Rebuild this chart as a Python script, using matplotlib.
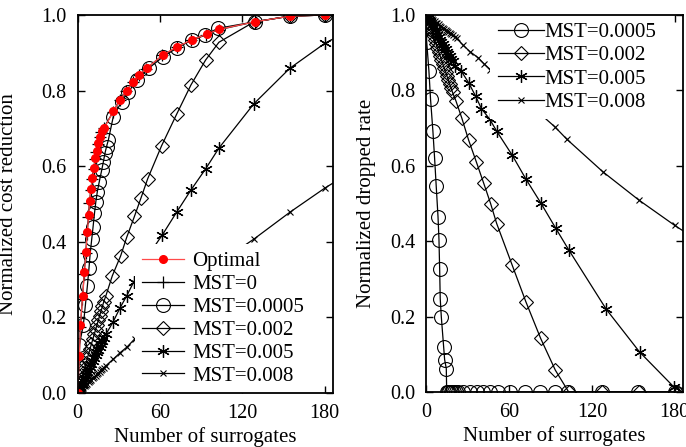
import matplotlib
matplotlib.use("Agg")
import matplotlib.pyplot as plt

plt.rcParams['font.family'] = ['Liberation Serif', 'DejaVu Serif']

# ---- left panel: normalized cost reduction ----
opt_x = [0, 1.2, 2, 3.6, 4.9, 6, 7, 8, 8.6, 9.7, 10.7, 11.9, 12.9, 13.8, 15, 16.3, 17.5, 19.2,
         26, 30.8, 35.7, 40.5, 44.9, 50.2, 61.9, 72.5, 83, 93.9, 102.9, 129, 154.5, 180]
opt_y = [0, 0.097, 0.18, 0.257, 0.319, 0.374, 0.427, 0.47, 0.507, 0.539, 0.568, 0.595, 0.621, 0.639,
         0.661, 0.678, 0.692, 0.70, 0.745, 0.775, 0.80, 0.824, 0.841, 0.859, 0.894, 0.916, 0.934,
         0.949, 0.962, 0.982, 0.997, 1.0]

m0_x = [0, 1, 2, 3.4, 4.7, 5.8, 6.8, 7.8, 8.5, 9.5, 10.5, 11.6, 12.6, 13.6, 14.7, 16, 17.2, 18.8,
        25.8, 30.6, 35.5, 40.3, 44.7, 50, 61.7, 72.3, 82.8, 93.7, 102.7, 129, 154.5, 180]
m0_y = [0, 0.09, 0.175, 0.25, 0.315, 0.37, 0.42, 0.465, 0.503, 0.536, 0.566, 0.593, 0.618, 0.637,
        0.659, 0.676, 0.69, 0.70, 0.744, 0.774, 0.80, 0.823, 0.84, 0.858, 0.893, 0.915, 0.933,
        0.948, 0.961, 0.982, 0.997, 1.0]

m05_x = [0, 0.5, 1.2, 4.1, 5.6, 7, 8.2, 9, 10.2, 11.2, 12.2, 13.2, 14.3, 15.7, 17.5, 18.7, 19.9,
         21, 22.3, 25.9, 32, 36.9, 43.4, 51.7, 62.3, 72, 83, 92.7, 102.4, 129, 154.5, 180]
m05_y = [0, 0.07, 0.128, 0.18, 0.233, 0.282, 0.33, 0.366, 0.407, 0.44, 0.475, 0.506, 0.533, 0.559,
         0.59, 0.612, 0.635, 0.652, 0.669, 0.731, 0.771, 0.797, 0.828, 0.859, 0.89, 0.912, 0.934,
         0.947, 0.965, 0.982, 0.997, 1.0]

m2_x = [0, 1, 2, 3, 4, 5, 6, 7, 8, 9, 10, 11, 12, 13, 14, 15, 16, 17, 18, 19, 20.4, 25.2, 31.3,
        35.7, 41.3, 46.2, 51, 61.1, 72, 82.5, 93.2, 102.9, 128.6, 154.5, 180]
m2_y = [0, 0.014, 0.027, 0.04, 0.053, 0.066, 0.079, 0.092, 0.104, 0.117, 0.13, 0.142, 0.155, 0.167,
        0.18, 0.192, 0.205, 0.217, 0.229, 0.242, 0.256, 0.31, 0.363, 0.412, 0.467, 0.517, 0.567,
        0.654, 0.737, 0.815, 0.881, 0.928, 0.982, 0.997, 1.0]

m5_x = [0, 1, 2, 3, 4, 5, 6, 7, 8, 9, 10, 11, 12, 13, 14, 15, 16, 17, 18, 19, 20.5, 25.9, 30.8,
        35.7, 40.7, 46, 51, 61.6, 72, 82.5, 93.2, 102.9, 128.3, 154.5, 180, 206]
m5_y = [0, 0.008, 0.016, 0.024, 0.031, 0.039, 0.047, 0.055, 0.062, 0.07, 0.078, 0.085, 0.093, 0.1,
        0.108, 0.115, 0.123, 0.13, 0.138, 0.145, 0.155, 0.189, 0.225, 0.257, 0.293, 0.33, 0.362,
        0.418, 0.478, 0.537, 0.593, 0.648, 0.765, 0.859, 0.925, 0.975]

m8_x = [0, 1, 2, 3, 4, 5, 6, 7, 8, 9, 10, 11, 12, 13, 14, 15, 16, 17, 18, 19, 20.5, 26, 31, 36,
        41.5, 46, 51, 61.5, 72, 82.5, 93, 103, 128.3, 154.5, 180, 206]
m8_y = [0, 0.004, 0.007, 0.011, 0.014, 0.018, 0.021, 0.025, 0.028, 0.032, 0.035, 0.039, 0.042,
        0.046, 0.049, 0.053, 0.056, 0.06, 0.063, 0.067, 0.072, 0.09, 0.107, 0.122, 0.143, 0.158,
        0.174, 0.21, 0.245, 0.28, 0.313, 0.345, 0.407, 0.478, 0.542, 0.6]

# ---- right panel: normalized dropped rate ----
d05_x = [0, 0.3, 1.9, 3.1, 4.8, 6, 7.2, 8.5, 9.2, 9.7, 10.1, 10.9, 12.6, 13.3, 14.5, 14.8, 15.8,
         16.8, 17.8, 18.8, 19.8, 21.5, 23.2, 26.8, 31.7, 36.5, 41.3, 46.2, 52.2, 60.6, 71.5, 82.4,
         93.3, 103, 127, 153.6, 180]
d05_y = [1.0, 0.929, 0.852, 0.776, 0.692, 0.622, 0.546, 0.465, 0.404, 0.325, 0.248, 0.199, 0.119,
         0.086, 0.062, 0, 0, 0, 0, 0, 0, 0, 0, 0, 0, 0, 0, 0, 0, 0, 0, 0, 0, 0, 0, 0, 0]

d2_x = [0, 1, 2, 3, 4, 5, 6, 7, 8, 9, 10, 11, 12, 13, 14, 15, 16, 17, 18, 19, 21.5, 25.8, 30.7,
        36.2, 41.5, 46.6, 51, 62.3, 72.2, 82.9, 93.5, 103.2, 127.3, 153.9, 180]
d2_y = [1.0, 0.989, 0.978, 0.967, 0.957, 0.946, 0.935, 0.924, 0.913, 0.902, 0.892, 0.881, 0.87,
        0.859, 0.849, 0.838, 0.827, 0.816, 0.806, 0.795, 0.772, 0.726, 0.668, 0.611, 0.555, 0.5,
        0.447, 0.336, 0.239, 0.142, 0.058, 0, 0, 0, 0]

d5_x = [0, 1, 2, 3, 4, 5, 6, 7, 8, 9, 10, 11, 12, 13, 14, 15, 16, 17, 18, 19, 21, 25.4, 30.9,
        35.7, 39.9, 45.9, 51, 62.3, 72, 82.9, 93.7, 103.4, 130.5, 154.6, 179.5, 206]
d5_y = [1.0, 0.994, 0.987, 0.981, 0.974, 0.968, 0.961, 0.955, 0.948, 0.942, 0.935, 0.929, 0.922,
        0.916, 0.909, 0.903, 0.896, 0.89, 0.883, 0.877, 0.866, 0.851, 0.819, 0.785, 0.752, 0.724,
        0.692, 0.628, 0.566, 0.502, 0.435, 0.376, 0.219, 0.106, 0.013, 0.0]

d8_x = [0, 1, 2, 3, 4, 5, 6, 7, 8, 9, 10, 11, 12, 13, 14, 15, 16, 17, 18, 19, 20.5, 22, 26.7,
        31.6, 37.5, 42, 46.5, 51.5, 62, 72, 82.1, 93, 102, 128, 154.1, 180, 206]
d8_y = [1.0, 0.997, 0.994, 0.992, 0.989, 0.986, 0.983, 0.98, 0.978, 0.975, 0.972, 0.969, 0.966,
        0.964, 0.961, 0.958, 0.955, 0.952, 0.95, 0.947, 0.943, 0.938, 0.92, 0.903, 0.887, 0.87,
        0.855, 0.84, 0.805, 0.772, 0.739, 0.704, 0.67, 0.584, 0.509, 0.442, 0.38]

xticks = [0, 60, 120, 180]
yticks = [0.0, 0.2, 0.4, 0.6, 0.8, 1.0]
star = (6, 2, 0)

fig = plt.figure(figsize=(6.86, 4.47), dpi=100)
ax1 = fig.add_axes([0.1133, 0.1208, 0.3721, 0.8456])
ax2 = fig.add_axes([0.6214, 0.123, 0.3742, 0.8434])

lw = 0.9
ax1.plot(opt_x, opt_y, color='#ff4a4a', lw=lw, marker='o', ms=5.5, mfc='red', mec='red',
         label='Optimal', zorder=4)
ax1.plot(m0_x, m0_y, color='k', lw=lw, marker='+', ms=9, mew=0.9, label='MST=0', zorder=3)
ax1.plot(m05_x, m05_y, color='k', lw=lw, marker='o', ms=10, mfc='none', mew=0.8,
         label='MST=0.0005', zorder=3)
ax1.plot(m2_x, m2_y, color='k', lw=lw, marker='D', ms=7.5, mfc='none', mew=0.8,
         label='MST=0.002', zorder=3)
ax1.plot(m5_x, m5_y, color='k', lw=lw, marker=star, ms=9, mew=0.9, label='MST=0.005', zorder=3)
ax1.plot(m8_x, m8_y, color='k', lw=lw, marker='x', ms=5, mew=0.8, label='MST=0.008', zorder=3)

ax2.plot(d05_x, d05_y, color='k', lw=lw, marker='o', ms=10, mfc='none', mew=0.8,
         label='MST=0.0005')
ax2.plot(d2_x, d2_y, color='k', lw=lw, marker='D', ms=7.5, mfc='none', mew=0.8,
         label='MST=0.002')
ax2.plot(d5_x, d5_y, color='k', lw=lw, marker=star, ms=9, mew=0.9, label='MST=0.005')
ax2.plot(d8_x, d8_y, color='k', lw=lw, marker='x', ms=5, mew=0.8, label='MST=0.008')

for ax in (ax1, ax2):
    ax.set_xlim(0, 186)
    ax.set_ylim(0, 1.0)
    ax.set_xticks(xticks)
    ax.set_yticks(yticks)
    ax.set_yticklabels(['%.1f' % v for v in yticks])
    ax.tick_params(direction='in', top=True, right=True, length=5, width=1,
                   labelsize=14.5, pad=8)
    ax.set_xlabel('Number of surrogates', fontsize=15, labelpad=3)
    for sp in ax.spines.values():
        sp.set_linewidth(1.3)
        sp.set_zorder(6)

ax1.set_ylabel('Normalized cost reduction', fontsize=15)
ax1.yaxis.set_label_coords(-0.235, 0.5)
ax2.set_ylabel('Normalized dropped rate', fontsize=15)
ax2.yaxis.set_label_coords(-0.196, 0.5)

ax1.legend(loc='lower left', bbox_to_anchor=(0.224, 0.0), fontsize=15, frameon=True,
           framealpha=1, edgecolor='none', fancybox=False, borderaxespad=0,
           borderpad=0.35, labelspacing=0.16, handlelength=2.0, handletextpad=0.4)
ax2.legend(loc='upper left', bbox_to_anchor=(0.25, 1.0), fontsize=15, frameon=True,
           framealpha=1, edgecolor='none', fancybox=False, borderaxespad=0,
           borderpad=0.35, labelspacing=0.18, handlelength=2.2, handletextpad=0.05)

fig.savefig('out.png', dpi=100)
